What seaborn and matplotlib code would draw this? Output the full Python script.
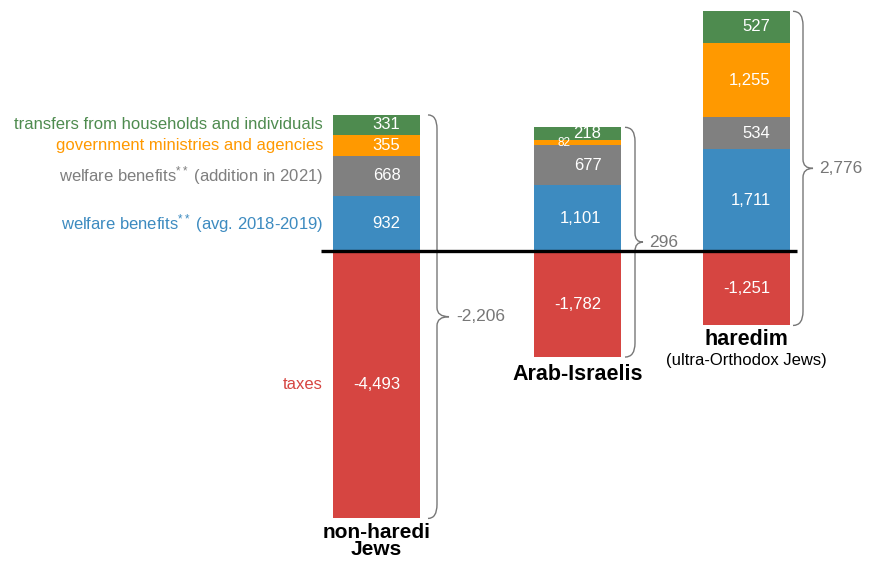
import matplotlib
matplotlib.use("Agg")
import matplotlib.pyplot as plt
import seaborn as sns
import numpy as np
from matplotlib.path import Path
from matplotlib.patches import PathPatch

# ---------------- data ----------------
groups = ["non-haredi\nJews", "Arab-Israelis", "haredim"]
group_sub = ["", "", "(ultra-Orthodox Jews)"]
taxes = [-4493, -1782, -1251]
welfare_avg = [932, 1101, 1711]
welfare_add = [668, 677, 534]
gov = [355, 82, 1255]
transfers = [331, 218, 527]
net = [-2206, 296, 2776]
series_names = ["welfare benefits$^{**}$ (avg. 2018-2019)",
                "welfare benefits$^{**}$ (addition in 2021)",
                "government ministries and agencies",
                "transfers from households and individuals"]
tax_name = "taxes"

# ---------------- style ----------------
sns.set_theme(style="white")
plt.rcParams['font.family'] = ['Liberation Sans', 'DejaVu Sans']
plt.rcParams['mathtext.fontset'] = 'custom'
plt.rcParams['mathtext.rm'] = 'Liberation Sans'
plt.rcParams['mathtext.it'] = 'Liberation Sans'

c_green = "#4E8B4F"
c_orange = "#FF9900"
c_gray = "#808080"
c_blue = "#3D8BC0"
c_red = "#D64541"
pos_colors = [c_blue, c_gray, c_orange, c_green]
text_colors = [c_blue, "#7F7F7F", c_orange, c_green]
brace_col = "#777777"

W, H = 877, 563
fig = plt.figure(figsize=(W / 100, H / 100), dpi=100)
ax = fig.add_axes([0, 0, 1, 1])
k = 16.8          # value units per pixel
zero_px = 251
ax.set_xlim(0, W)
ax.set_ylim(-(H - zero_px) * k, zero_px * k)
ax.axis("off")

x_pos = np.array([376.5, 577.5, 746.5])
bar_w = 87
label_dx = 24

# negative bars (taxes)
ax.bar(x_pos, taxes, width=bar_w, color=c_red, linewidth=0, zorder=2)
for x, v in zip(x_pos, taxes):
    ax.text(x + label_dx, v / 2, f"{v:,}", ha="right", va="center",
            color="white", fontsize=12, zorder=5)

# positive stacked bars
layers = [welfare_avg, welfare_add, gov, transfers]
bottom = np.zeros(3)
for li, (vals, col) in enumerate(zip(layers, pos_colors)):
    vals = np.array(vals, dtype=float)
    ax.bar(x_pos, vals, width=bar_w, bottom=bottom, color=col, linewidth=0, zorder=2)
    for gi, (x, v, b) in enumerate(zip(x_pos, vals, bottom)):
        if v < 150:
            ax.text(x - 7, b + v / 2, f"{int(v):,}", ha="right", va="center",
                    color="white", fontsize=8.5, zorder=5)
        else:
            ax.text(x + label_dx, b + v / 2, f"{int(v):,}", ha="right", va="center",
                    color="white", fontsize=12, zorder=5)
    # left-side legend labels at non-haredi segment centers
    ax.text(323, bottom[0] + vals[0] / 2, series_names[li], ha="right", va="center",
            color=text_colors[li], fontsize=12)
    bottom = bottom + vals
tops = bottom.copy()

ax.text(323, taxes[0] / 2, tax_name, ha="right", va="center", color=c_red, fontsize=12)

# zero line
ax.plot([321, 797], [0, 0], color="black", lw=2.4, zorder=6, solid_capstyle="butt")

# braces
brace_x0 = [428, 625, 793]
brace_xv = [437, 635, 803]
brace_xt = [449, 643, 813]
label_x = [456, 649, 819]


def brace(x0, xv, xt, top, bot):
    mid = (top + bot) / 2
    he = 14 * k
    hm = 9 * k
    verts = [(x0, top), (xv, top), (xv, top - he),
             (xv, mid + hm),
             (xv, mid), (xt, mid),
             (xv, mid), (xv, mid - hm),
             (xv, bot + he),
             (xv, bot), (x0, bot)]
    codes = [Path.MOVETO, Path.CURVE3, Path.CURVE3,
             Path.LINETO,
             Path.CURVE3, Path.CURVE3,
             Path.CURVE3, Path.CURVE3,
             Path.LINETO,
             Path.CURVE3, Path.CURVE3]
    ax.add_patch(PathPatch(Path(verts, codes), fill=False, edgecolor=brace_col, lw=1.0, zorder=3))
    return mid


for gi in range(3):
    mid = brace(brace_x0[gi], brace_xv[gi], brace_xt[gi], tops[gi], taxes[gi])
    ax.text(label_x[gi], mid, f"{net[gi]:,}", ha="left", va="center",
            color=brace_col, fontsize=12.5)

# group labels
offs = [-3, -5, -2.5]
for gi in range(3):
    ax.annotate(groups[gi], (x_pos[gi], taxes[gi]), xytext=(0, offs[gi]),
                textcoords="offset points", ha="center", va="top",
                fontsize=15.5 if gi else 15, fontweight="bold", color="black",
                linespacing=0.88)
    if group_sub[gi]:
        ax.annotate(group_sub[gi], (x_pos[gi], taxes[gi]), xytext=(0, -19.5),
                    textcoords="offset points", ha="center", va="top",
                    fontsize=12, color="black")

fig.savefig("out.png", dpi=100)
